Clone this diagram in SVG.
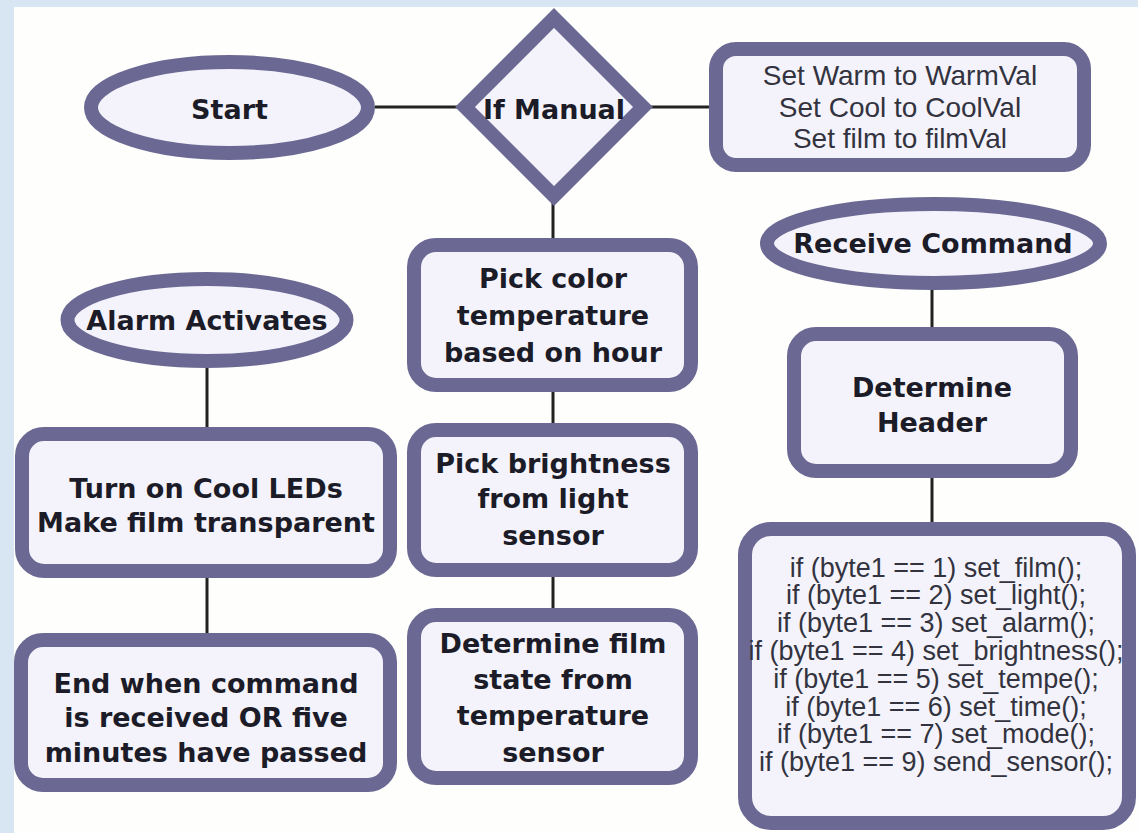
<svg xmlns="http://www.w3.org/2000/svg" width="1138" height="833" viewBox="0 0 1138 833">
<style>
.node{fill:#f4f3fb;stroke:#6b6993;stroke-width:14}
.lbl{font-family:"DejaVu Sans",Verdana,sans-serif;font-weight:bold;font-size:27px;fill:#1c1c28;text-anchor:middle}
.code{font-family:"Liberation Sans",Arial,sans-serif;font-size:27px;fill:#333340;text-anchor:middle}
.conn line{stroke:#222;stroke-width:3}
</style>
<rect x="0" y="0" width="1138" height="833" fill="#d8e5f2"/>
<rect x="14" y="7" width="1124" height="826" fill="#fefefc"/>
<g class="conn" id="connectors">
<line x1="375" y1="107" x2="458" y2="107"/>
<line x1="650" y1="107" x2="710" y2="107"/>
<line x1="553" y1="200" x2="553" y2="240"/>
<line x1="553" y1="390" x2="553" y2="425"/>
<line x1="553" y1="575" x2="553" y2="610"/>
<line x1="207" y1="366" x2="207" y2="429"/>
<line x1="207" y1="576" x2="207" y2="635"/>
<line x1="932" y1="288" x2="932" y2="329"/>
<line x1="932" y1="476" x2="932" y2="524"/>
</g>
<g id="start">
<ellipse class="node" cx="229.5" cy="107.5" rx="138.5" ry="45.5"/>
<text class="lbl" x="229.5" y="119">Start</text>
</g>
<g id="if-manual">
<polygon class="node" points="554,18 643,107 554,196 465,107"/>
<text class="lbl" x="554" y="119">If Manual</text>
</g>
<g id="set-values">
<rect class="node" x="716" y="49" width="368" height="116" rx="20"/>
<text class="code" style="font-size:28px" x="900" y="85">Set Warm to WarmVal</text>
<text class="code" style="font-size:28px" x="900" y="116.5">Set Cool to CoolVal</text>
<text class="code" style="font-size:28px" x="900" y="148">Set film to filmVal</text>
</g>
<g id="pick-color">
<rect class="node" x="414" y="245" width="277" height="140" rx="22"/>
<text class="lbl" x="553" y="288">Pick color</text>
<text class="lbl" x="553" y="325">temperature</text>
<text class="lbl" x="553" y="362">based on hour</text>
</g>
<g id="pick-brightness">
<rect class="node" x="414" y="430" width="277" height="140" rx="22"/>
<text class="lbl" x="553" y="473">Pick brightness</text>
<text class="lbl" x="553" y="508">from light</text>
<text class="lbl" x="553" y="545">sensor</text>
</g>
<g id="determine-film">
<rect class="node" x="414" y="615" width="277" height="163" rx="22"/>
<text class="lbl" x="553" y="653">Determine film</text>
<text class="lbl" x="553" y="689">state from</text>
<text class="lbl" x="553" y="725">temperature</text>
<text class="lbl" x="553" y="762">sensor</text>
</g>
<g id="alarm">
<ellipse class="node" cx="207" cy="320" rx="139.5" ry="41"/>
<text class="lbl" x="207" y="330">Alarm Activates</text>
</g>
<g id="turn-on">
<rect class="node" x="22" y="434" width="368" height="137" rx="22"/>
<text class="lbl" x="206" y="498">Turn on Cool LEDs</text>
<text class="lbl" x="206" y="532">Make film transparent</text>
</g>
<g id="end">
<rect class="node" x="21" y="640" width="369" height="145" rx="22"/>
<text class="lbl" x="206" y="693">End when command</text>
<text class="lbl" x="206" y="727">is received OR five</text>
<text class="lbl" x="206" y="762">minutes have passed</text>
</g>
<g id="receive">
<ellipse class="node" cx="933.5" cy="243.5" rx="166.5" ry="39.5"/>
<text class="lbl" x="933" y="253">Receive Command</text>
</g>
<g id="header">
<rect class="node" x="794" y="334" width="277" height="137" rx="22"/>
<text class="lbl" x="932" y="397">Determine</text>
<text class="lbl" x="932" y="432">Header</text>
</g>
<g id="dispatch">
<rect class="node" x="745" y="529" width="384" height="294" rx="26"/>
<text class="code" x="936" y="576.5">if (byte1 == 1) set_film();</text>
<text class="code" x="936" y="604">if (byte1 == 2) set_light();</text>
<text class="code" x="936" y="632">if (byte1 == 3) set_alarm();</text>
<text class="code" x="936" y="660">if (byte1 == 4) set_brightness();</text>
<text class="code" x="936" y="688">if (byte1 == 5) set_tempe();</text>
<text class="code" x="936" y="715.5">if (byte1 == 6) set_time();</text>
<text class="code" x="936" y="743">if (byte1 == 7) set_mode();</text>
<text class="code" x="936" y="771">if (byte1 == 9) send_sensor();</text>
</g>
</svg>
